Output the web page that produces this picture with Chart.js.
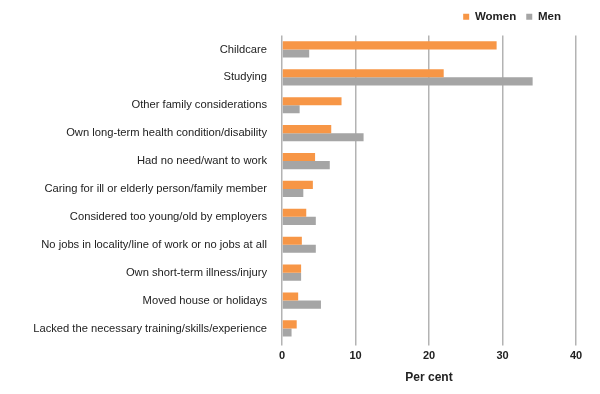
<!DOCTYPE html>
<html>
<head>
<meta charset="utf-8">
<script src="https://cdn.jsdelivr.net/npm/chart.js@4.4.0/dist/chart.umd.min.js"></script>
<style>
  html, body { margin: 0; padding: 0; background: #fff; }
  #wrap { width: 600px; height: 394px; }
</style>
</head>
<body>
<div id="wrap"><canvas id="chart"></canvas></div>
<script>
const categories = [
    "Childcare",
    "Studying",
    "Other family considerations",
    "Own long-term health condition/disability",
    "Had no need/want to work",
    "Caring for ill or elderly person/family member",
    "Considered too young/old by employers",
    "No jobs in locality/line of work or no jobs at all",
    "Own short-term illness/injury",
    "Moved house or holidays",
    "Lacked the necessary training/skills/experience"
];
const women = [29.2, 22.0, 8.1, 6.7, 4.5, 4.2, 3.3, 2.7, 2.6, 2.2, 2.0];
const men = [3.7, 34.1, 2.4, 11.1, 6.5, 2.9, 4.6, 4.6, 2.6, 5.3, 1.3];
const xTicks = [0, 10, 20, 30, 40];

Chart.defaults.font.family = "'Liberation Sans', Arial, sans-serif";
Chart.defaults.color = "#222";

// give the legend a little more room underneath, and nudge it left
const legendGap = {
    id: "legendGap",
    beforeInit(chart) {
        const origFit = chart.legend.fit;
        chart.legend.fit = function () {
            origFit.bind(chart.legend)();
            this.height += 3;
        };
    },
    afterLayout(chart) {
        chart.legend.right -= 5;
    }
};

new Chart(document.getElementById("chart"), {
    type: "bar",
    data: {
        labels: categories,
        datasets: [
            { label: "Women", data: women, backgroundColor: "#f79646" },
            { label: "Men", data: men, backgroundColor: "#a5a5a5" }
        ]
    },
    options: {
        indexAxis: "y",
        responsive: true,
        maintainAspectRatio: false,
        animation: false,
        layout: { padding: { left: 0, right: 24, top: 1, bottom: 9 } },
        datasets: { bar: { categoryPercentage: 0.58, barPercentage: 1.0 } },
        plugins: {
            tooltip: { enabled: false },
            legend: {
                position: "top",
                align: "end",
                labels: {
                    boxWidth: 6,
                    boxHeight: 6,
                    padding: 10,
                    font: { size: 11.5, weight: "bold" },
                    color: "#222"
                }
            }
        },
        scales: {
            x: {
                min: 0,
                max: 40,
                afterBuildTicks: function (scale) {
                    scale.ticks = xTicks.map(v => ({ value: v }));
                },
                grid: { color: "#b3b3b3", lineWidth: 1.5, tickLength: 3, drawTicks: true },
                border: { display: false },
                ticks: { font: { size: 11, weight: "bold" }, color: "#222", padding: 4 },
                title: {
                    display: true,
                    text: "Per cent",
                    font: { size: 12, weight: "bold" },
                    color: "#222",
                    padding: { top: 4, bottom: 0 }
                }
            },
            y: {
                grid: { display: false },
                border: { display: false },
                ticks: { font: { size: 11.2 }, color: "#222", padding: 7, autoSkip: false },
                afterFit: function (scale) { scale.width = 282; }
            }
        }
    },
    plugins: [legendGap]
});
</script>
</body>
</html>
